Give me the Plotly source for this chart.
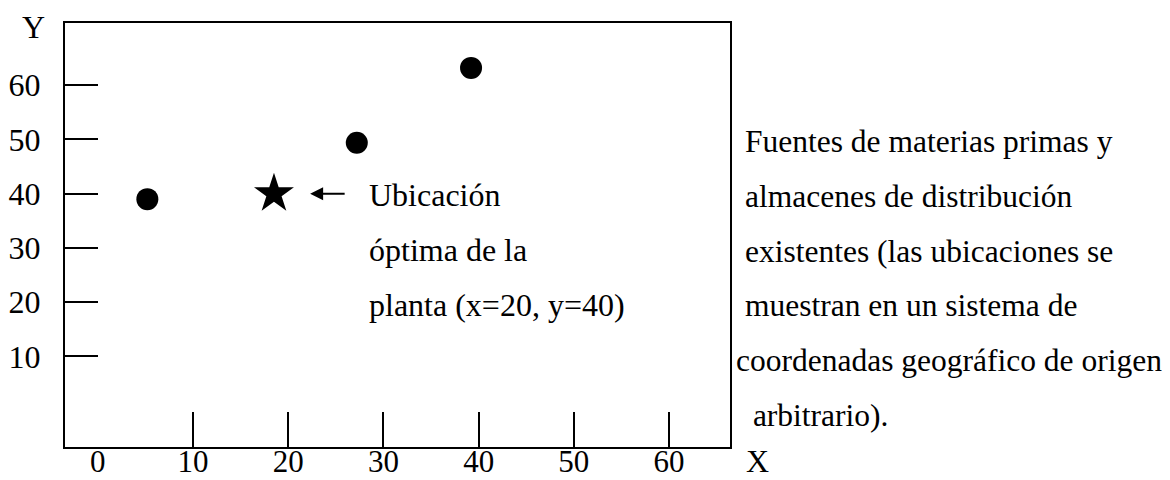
import plotly.graph_objects as go

# ---- data ----
source_x = [5.2, 27.2, 39.2]          # raw-material sources / warehouses
source_y = [39.0, 49.4, 63.2]
plant_x = [18.5]                       # optimal plant location (star)
plant_y = [40.0]
x_label_vals = [0, 10, 20, 30, 40, 50, 60]
x_mark_vals = [10, 20, 30, 40, 50, 60]
y_tick_vals = [10, 20, 30, 40, 50, 60]
plant_label = ["Ubicación", "óptima de la", "planta (x=20, y=40)"]
note_lines = [
    "Fuentes de materias primas y",
    "almacenes de distribución",
    "existentes (las ubicaciones se",
    "muestran en un sistema de",
    "coordenadas geográfico de origen",
    " arbitrario).",
]

FONT = "Liberation Serif"
FS = 32
NOTE_FS = 31.5
# the page body adds an 8 px offset; the figure is sized so that it ends at the window edge
OFF = 8
W, H = 1170 - OFF, 480 - OFF
# plot box in window pixels: left 65, right 730, top 23, bottom 447
BL, BR, BT, BB = 65, 730, 23, 447
ML, MT = BL - OFF, BT - OFF
MR, MB = 1170 - BR, 480 - BB
PW, PH = BR - BL, BB - BT


def px(xp):
    return (xp - BL) / PW


def py(yp):
    return (BB - yp) / PH


fig = go.Figure()
fig.add_trace(go.Scatter(
    x=source_x, y=source_y, mode="markers",
    marker=dict(symbol="circle", size=22, color="black"),
    showlegend=False, hoverinfo="skip", cliponaxis=False))
fig.add_trace(go.Scatter(
    x=plant_x, y=plant_y, mode="markers",
    marker=dict(symbol="star", size=30, color="black"),
    showlegend=False, hoverinfo="skip", cliponaxis=False))

annotations = []
# axis letters (kept inside the figure edges)
annotations.append(dict(text="Y", x=px(33), y=py(OFF), xref="paper", yref="paper",
                        showarrow=False, xanchor="center", yanchor="top", borderpad=0))
annotations.append(dict(text="X", x=px(758), y=py(480), xref="paper", yref="paper",
                        showarrow=False, xanchor="center", yanchor="bottom", borderpad=0))
# arrow pointing to the star
annotations.append(dict(text="", x=22.3, y=plant_y[0], xref="x", yref="y",
                        ax=36, ay=0, axref="pixel", ayref="pixel",
                        showarrow=True, arrowhead=2, arrowsize=1.3,
                        arrowwidth=2, arrowcolor="black"))
# plant label
for line, yc in zip(plant_label, [195, 250, 305]):
    annotations.append(dict(text=line, x=px(367), y=py(yc), xref="paper", yref="paper",
                            showarrow=False, xanchor="left", yanchor="middle"))
# right-side note
note_x = [743, 743, 743, 743, 734, 743]
note_y = [141, 196, 251, 305, 360, 415]
for line, xl, yc in zip(note_lines, note_x, note_y):
    annotations.append(dict(text=line, x=px(xl), y=py(yc), xref="paper", yref="paper",
                            showarrow=False, xanchor="left", yanchor="middle",
                            font=dict(family=FONT, size=NOTE_FS, color="black")))

fig.update_layout(
    width=W, height=H,
    margin=dict(l=ML, r=MR, t=MT, b=MB, pad=0, autoexpand=False),
    paper_bgcolor="white", plot_bgcolor="white",
    font=dict(family=FONT, size=FS, color="black"),
    annotations=annotations,
    showlegend=False,
)
fig.update_xaxes(
    range=[-3.45, 66.4], showgrid=False, zeroline=False, automargin=False,
    showline=True, mirror=True, linecolor="black", linewidth=2,
    tickmode="array", tickvals=x_label_vals, ticktext=[str(v) for v in x_label_vals],
    ticks="", ticklabelstandoff=-14,
    tickfont=dict(family=FONT, size=31, color="black"),
    minor=dict(tickmode="array", tickvals=x_mark_vals, ticks="inside",
               ticklen=35, tickwidth=2, tickcolor="black", showgrid=False),
)
fig.update_yaxes(
    range=[-6.71, 71.48], showgrid=False, zeroline=False, automargin=False,
    showline=True, mirror=True, linecolor="black", linewidth=2,
    tickmode="array", tickvals=y_tick_vals, ticktext=[str(v) for v in y_tick_vals],
    ticks="inside", ticklen=33, tickwidth=2, tickcolor="black",
    ticklabelstandoff=16,
    tickfont=dict(family=FONT, size=FS, color="black"),
)

fig.write_html("out.html")
